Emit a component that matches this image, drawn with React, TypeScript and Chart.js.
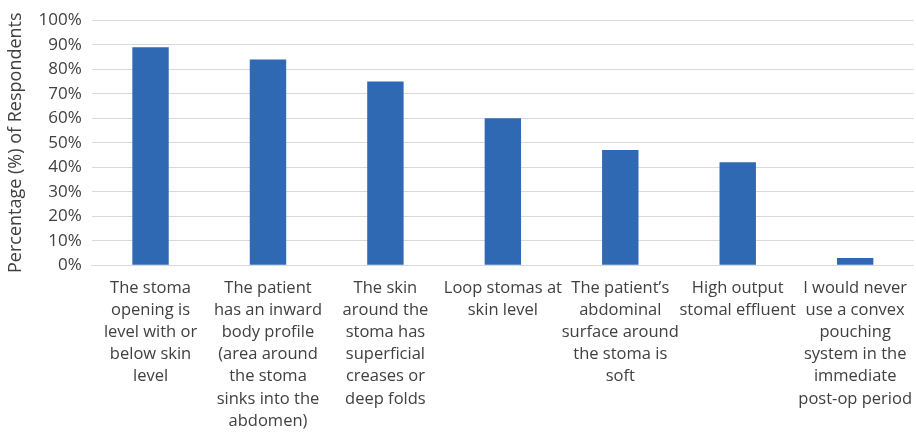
import React, { useEffect, useRef } from "react";
import { Chart, registerables } from "chart.js";

Chart.register(...registerables);

const categories: string[][] = [
  ["The stoma", "opening is", "level with or", "below skin", "level"],
  ["The patient", "has an inward", "body profile", "(area around", "the stoma", "sinks into the", "abdomen)"],
  ["The skin", "around the", "stoma has", "superficial", "creases or", "deep folds"],
  ["Loop stomas at", "skin level"],
  ["The patient\u2019s", "abdominal", "surface around", "the stoma is", "soft"],
  ["High output", "stomal effluent"],
  ["I would never", "use a convex", "pouching", "system in the", "immediate", "post-op period"],
];
const values: number[] = [89, 84, 75, 60, 47, 42, 3];
const yTitle = "Percentage (%) of Respondents";

export default function App() {
  const ref = useRef<HTMLCanvasElement | null>(null);
  useEffect(() => {
    document.body.style.margin = "0";
    if (!ref.current) return;
    const font = "'Open Sans', 'Noto Sans', sans-serif";
    const chart = new Chart(ref.current, {
      type: "bar",
      data: {
        labels: categories,
        datasets: [
          {
            data: values,
            backgroundColor: "#2F68B3",
            borderWidth: 0,
            categoryPercentage: 1,
            barPercentage: 0.31,
          },
        ],
      },
      options: {
        animation: false,
        responsive: false,
        layout: { padding: { top: 8, right: 0, left: 5, bottom: -4 } },
        plugins: { legend: { display: false }, tooltip: { enabled: false } },
        scales: {
          x: {
            grid: { display: false },
            border: { display: true, color: "#D9D9D9", width: 1 },
            ticks: {
              maxRotation: 0,
              autoSkip: false,
              color: "#404040",
              font: { family: font, size: 16.5, lineHeight: 1.34 },
              padding: 4,
            },
          },
          y: {
            min: 0,
            max: 100,
            grid: { color: "#D9D9D9", lineWidth: 1, drawTicks: false },
            border: { display: false },
            ticks: {
              stepSize: 10,
              autoSkip: false,
              color: "#404040",
              font: { family: font, size: 17 },
              padding: 10,
              callback: (v: any) => v + "%",
            },
            title: {
              display: true,
              text: yTitle,
              color: "#404040",
              font: { family: font, size: 18 },
              padding: { top: 0, bottom: 2 },
            },
          },
        },
      },
    });
    return () => chart.destroy();
  }, []);
  return <canvas ref={ref} width={916} height={432} style={{ display: "block" }} />;
}
